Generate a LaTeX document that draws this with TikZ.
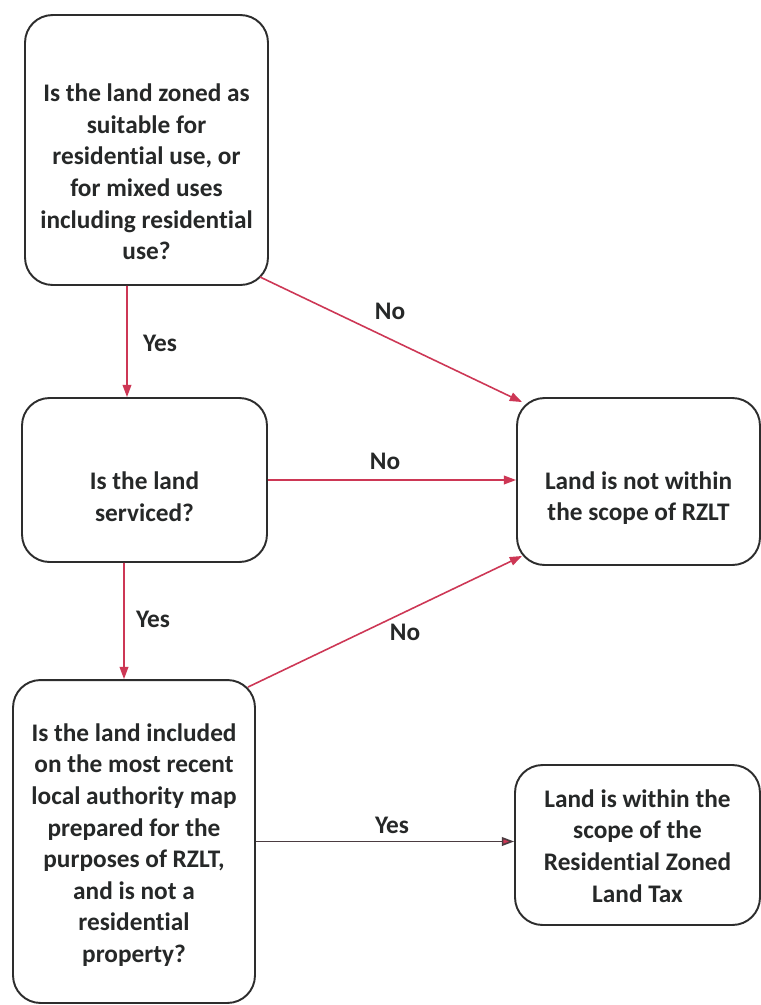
\documentclass[tikz,border=0pt]{standalone}
\usepackage{fontspec}
\setmainfont[Ligatures=NoCommon]{Carlito}
\usetikzlibrary{arrows.meta}
\definecolor{edgered}{RGB}{205,55,85}
\definecolor{txt}{RGB}{38,40,40}
\definecolor{boxline}{RGB}{45,45,45}
\definecolor{darkline}{RGB}{75,60,65}
\begin{document}
\begin{tikzpicture}[x=0.02cm,y=-0.02cm,
  box/.style={draw=boxline,line width=1.1pt,rounded corners=0.55cm,inner sep=0pt},
  qtext/.style={font=\bfseries\fontsize{14.4}{18}\selectfont,text=txt,align=center,inner sep=0pt},
  lbl/.style={font=\bfseries\fontsize{14.4}{18}\selectfont,text=txt,inner sep=0pt},
  conn/.style={draw=edgered,line width=0.9pt,-{Triangle[length=7pt,width=5pt]}},
  darkconn/.style={draw=darkline,line width=0.9pt,-{Triangle[length=7pt,width=5pt,fill=edgered]}}]
\useasboundingbox[fill=white] (0,0) rectangle (761,1005);

% boxes
\node[box,minimum width=4.86cm,minimum height=5.4cm] (A) at (146.5,150) {};
\node[qtext] (At) at (146.5,172) {Is the land zoned as\\suitable for\\residential use, or\\for mixed uses\\including residential\\use?};

\node[box,minimum width=4.9cm,minimum height=3.28cm] (B) at (144.5,480) {};
\node[qtext] (Bt) at (144.5,497) {Is the land\\serviced?};

\node[box,minimum width=4.86cm,minimum height=3.34cm] (C) at (638.5,481.5) {};
\node[qtext] (Ct) at (638.5,498) {Land is not within\\the scope of RZLT};

\node[box,minimum width=4.84cm,minimum height=6.46cm] (D) at (134,841.5) {};
\node[qtext] (Dt) at (134,845) {Is the land included\\on the most recent\\local authority map\\prepared for the\\purposes of RZLT,\\and is not a\\residential\\property?};

\node[box,minimum width=4.9cm,minimum height=3.2cm] (E) at (637.5,845) {};
\node[qtext] (Et) at (637.5,846) {Land is within the\\scope of the\\Residential Zoned\\Land Tax};

% connectors
\draw[conn] ([xshift=-0.39cm]A.south) -- ([xshift=-0.35cm]B.north);
\draw[conn] ([xshift=-0.18cm,yshift=0.18cm]A.south east) -- ([xshift=0.12cm,yshift=-0.1cm]C.north west);
\draw[conn] (B.east) -- (B.east -| C.west);
\draw[conn] ([xshift=-0.41cm]B.south) -- ([xshift=-0.2cm]D.north);
\draw[conn] ([xshift=-0.16cm,yshift=-0.16cm]D.north east) -- ([xshift=0.12cm,yshift=0.2cm]C.south west);
\draw[darkconn] (D.east) -- (D.east -| E.west);

% labels
\node[lbl] (l1) at (160,343) {Yes};
\node[lbl] (l2) at (390,311) {No};
\node[lbl] (l3) at (385,461) {No};
\node[lbl] (l4) at (153,619) {Yes};
\node[lbl] (l5) at (405,632) {No};
\node[lbl] (l6) at (392,825) {Yes};
\end{tikzpicture}
\end{document}
